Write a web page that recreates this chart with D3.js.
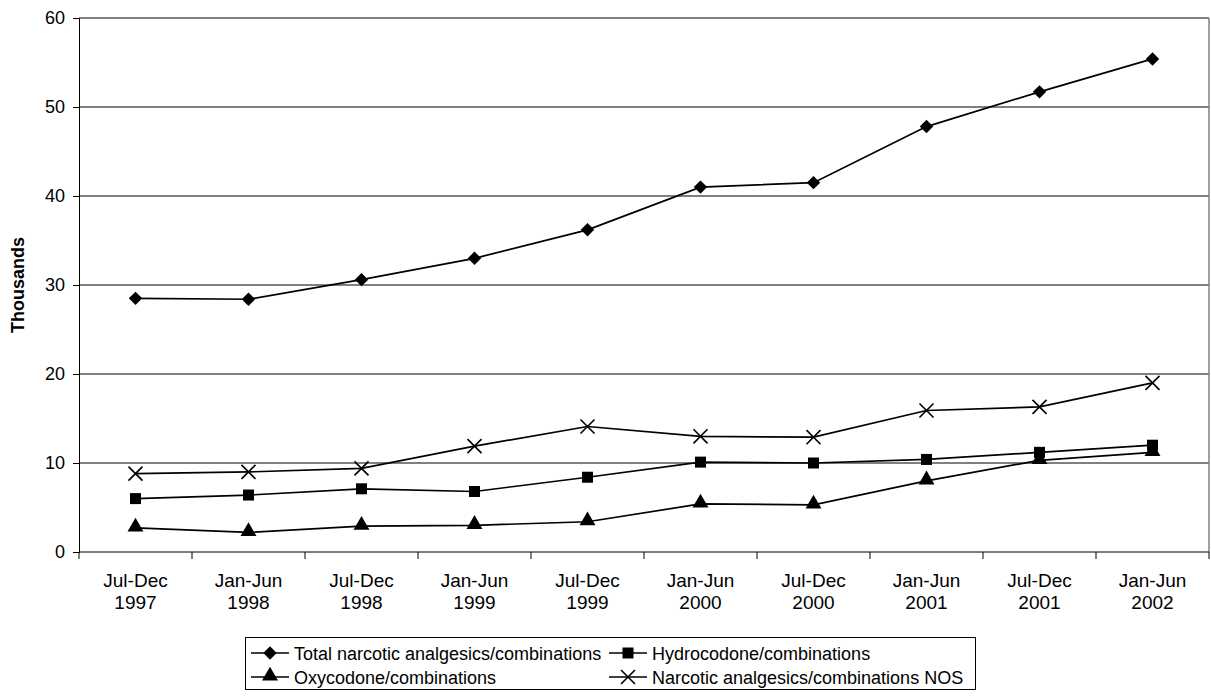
<!DOCTYPE html>
<html>
<head>
<meta charset="utf-8">
<script src="https://cdn.jsdelivr.net/npm/d3@7"></script>
<style>
  html, body { margin: 0; padding: 0; background: #fff; }
  svg { display: block; font-family: "Liberation Sans", Arial, sans-serif; }
</style>
</head>
<body>
<svg id="chart" width="1211" height="696"></svg>
<script>
const categories = ["Jul-Dec 1997","Jan-Jun 1998","Jul-Dec 1998","Jan-Jun 1999","Jul-Dec 1999",
                    "Jan-Jun 2000","Jul-Dec 2000","Jan-Jun 2001","Jul-Dec 2001","Jan-Jun 2002"];
const totalNarcotic = [28.5, 28.4, 30.6, 33.0, 36.2, 41.0, 41.5, 47.8, 51.7, 55.4];
const hydrocodone   = [6.0, 6.4, 7.1, 6.8, 8.4, 10.1, 10.0, 10.4, 11.2, 12.0];
const oxycodone     = [2.7, 2.2, 2.9, 3.0, 3.4, 5.4, 5.3, 8.0, 10.3, 11.2];
const narcoticNOS   = [8.8, 9.0, 9.4, 11.9, 14.1, 13.0, 12.9, 15.9, 16.3, 19.0];
const yTicks = [0, 10, 20, 30, 40, 50, 60];
const seriesNames = ["Total narcotic analgesics/combinations","Hydrocodone/combinations",
                     "Oxycodone/combinations","Narcotic analgesics/combinations NOS"];

const series = [
  {name: seriesNames[0], values: totalNarcotic, marker: "diamond"},
  {name: seriesNames[1], values: hydrocodone, marker: "square"},
  {name: seriesNames[2], values: oxycodone, marker: "triangle"},
  {name: seriesNames[3], values: narcoticNOS, marker: "times"}
];

const svg = d3.select("#chart");
const L = 79, R = 1209, T = 18, B = 552;

const x = d3.scaleBand().domain(categories).range([L, R]).padding(0);
const y = d3.scaleLinear().domain([0, 60]).range([B, T]);
const cx = c => x(c) + x.bandwidth() / 2;

// gridlines
svg.append("g").selectAll("line").data(yTicks.filter(d => d > 0)).join("line")
  .attr("x1", L).attr("x2", R).attr("y1", d => y(d)).attr("y2", d => y(d))
  .attr("stroke", "#000").attr("stroke-width", 1);
// right border
svg.append("line").attr("x1", R).attr("x2", R).attr("y1", T).attr("y2", B)
  .attr("stroke", "#808080").attr("stroke-width", 1.5);

// y axis
const yAxis = svg.append("g").attr("transform", `translate(${L},0)`)
  .call(d3.axisLeft(y).tickValues(yTicks).tickSize(6).tickPadding(8).tickFormat(d3.format("d")));
yAxis.select(".domain").attr("stroke", "#000");
yAxis.selectAll("line").attr("stroke", "#000");
yAxis.selectAll("text").attr("font-size", 18).attr("fill", "#000")
  .attr("font-family", '"Liberation Sans", Arial, sans-serif');

// x axis: ticks at band boundaries
const xAxis = svg.append("g").attr("transform", `translate(0,${B})`);
xAxis.append("line").attr("x1", L).attr("x2", R).attr("stroke", "#000");
const bounds = categories.map(c => x(c)).concat([R]);
xAxis.selectAll("line.tk").data(bounds).join("line").attr("class", "tk")
  .attr("x1", d => d).attr("x2", d => d).attr("y1", 0).attr("y2", 7).attr("stroke", "#000");
const xl = xAxis.selectAll("text.lbl").data(categories).join("text").attr("class", "lbl")
  .attr("text-anchor", "middle").attr("font-size", 19).attr("fill", "#000")
  .attr("transform", d => `translate(${cx(d)},0)`);
xl.append("tspan").attr("x", 0).attr("y", 35).text(d => d.split(" ")[0]);
xl.append("tspan").attr("x", 0).attr("y", 57).text(d => d.split(" ")[1]);

// y label
svg.append("text").attr("transform", `translate(24,${(T + B) / 2}) rotate(-90)`)
  .attr("text-anchor", "middle").attr("font-size", 18).attr("font-weight", "bold")
  .attr("fill", "#000").text("Thousands");

// markers
function markerPath(type) {
  if (type === "diamond") return d3.symbol(d3.symbolSquare, 90)();
  if (type === "square") return d3.symbol(d3.symbolSquare, 121)();
  if (type === "triangle") return d3.symbol(d3.symbolTriangle, 110)();
  return d3.symbol(d3.symbolTimes, 130)();
}
function drawMarker(g, type) {
  const p = g.append("path").attr("d", markerPath(type));
  if (type === "times") p.attr("fill", "none").attr("stroke", "#000").attr("stroke-width", 1.6);
  else p.attr("fill", "#000");
  if (type === "diamond") p.attr("transform", "rotate(45)");
  if (type === "triangle") p.attr("transform", "translate(0,-1)");
  return p;
}

const line = d3.line().x((d, i) => cx(categories[i])).y(d => y(d));
series.forEach(s => {
  svg.append("path").datum(s.values).attr("d", line)
    .attr("fill", "none").attr("stroke", "#000").attr("stroke-width", 1.7);
  s.values.forEach((v, i) => {
    const g = svg.append("g").attr("transform", `translate(${cx(categories[i])},${y(v)})`);
    drawMarker(g, s.marker);
  });
});

// legend
const lg = svg.append("g");
lg.append("rect").attr("x", 245.5).attr("y", 637.5).attr("width", 730).attr("height", 52)
  .attr("fill", "#fff").attr("stroke", "#000").attr("stroke-width", 1);
const legPos = [[251, 653], [609, 653], [251, 677], [609, 677]];
series.forEach((s, i) => {
  const [lx, ly] = legPos[i];
  const g = lg.append("g").attr("transform", `translate(${lx},${ly})`);
  g.append("line").attr("x1", 0).attr("x2", 38).attr("stroke", "#000").attr("stroke-width", 1.7);
  const m = g.append("g").attr("transform", "translate(19,0)");
  drawMarker(m, s.marker);
  g.append("text").attr("x", 43).attr("y", 6.5).attr("font-size", 18).attr("fill", "#000").text(s.name);
});
</script>
</body>
</html>
